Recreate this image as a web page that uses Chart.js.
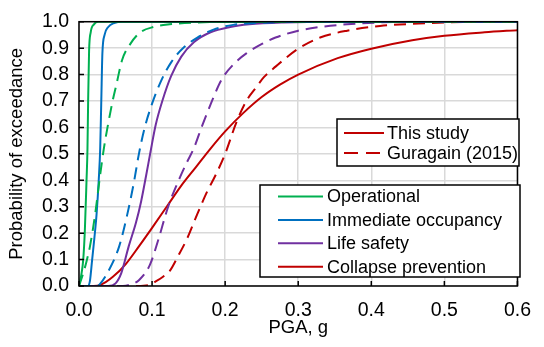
<!DOCTYPE html>
<html>
<head>
<meta charset="utf-8">
<script src="https://cdn.jsdelivr.net/npm/chart.js@4.4.1/dist/chart.umd.min.js"></script>
<style>
  html, body { margin: 0; padding: 0; background: #fff; }
  #wrap { width: 544px; height: 347px; }
</style>
</head>
<body>
<div id="wrap"><canvas id="fragility"></canvas></div>
<script>
// PGA (g) / probability of exceedance
const operationalStudy = [[0,0],[0.003,0.04],[0.0058,0.1],[0.008,0.21],[0.0103,0.4],[0.0116,0.52],[0.0125,0.7],[0.0138,0.89],[0.016,0.96],[0.0205,0.99],[0.026,1],[0.6,1]];
const operationalGuragain = [[0,0],[0.006,0.05],[0.01,0.09],[0.015,0.15],[0.022,0.27],[0.028,0.4],[0.034,0.52],[0.039,0.6],[0.046,0.7],[0.051,0.76],[0.059,0.855],[0.0705,0.917],[0.084,0.96],[0.102,0.98],[0.124,0.99],[0.16,0.997],[0.2,1],[0.6,1]];
const immediateStudy = [[0,0],[0.012,0],[0.015,0.02],[0.018,0.1],[0.021,0.18],[0.024,0.27],[0.027,0.4],[0.029,0.52],[0.0305,0.7],[0.032,0.88],[0.035,0.95],[0.04,0.98],[0.048,0.995],[0.06,1],[0.6,1]];
const immediateGuragain = [[0,0],[0.025,0],[0.028,0.005],[0.039,0.05],[0.055,0.15],[0.066,0.27],[0.075,0.39],[0.082,0.5],[0.09,0.6],[0.1,0.69],[0.113,0.78],[0.127,0.85],[0.144,0.904],[0.162,0.94],[0.184,0.97],[0.211,0.988],[0.25,0.996],[0.3,1],[0.6,1]];
const lifeStudy = [[0,0],[0.04,0],[0.05,0.01],[0.058,0.05],[0.068,0.15],[0.078,0.24],[0.085,0.32],[0.092,0.42],[0.098,0.51],[0.105,0.61],[0.114,0.7],[0.126,0.794],[0.14,0.868],[0.1575,0.923],[0.18,0.96],[0.207,0.98],[0.233,0.99],[0.28,0.997],[0.35,1],[0.6,1]];
const lifeGuragain = [[0,0],[0.06,0],[0.07,0.005],[0.082,0.022],[0.097,0.08],[0.108,0.17],[0.122,0.3],[0.138,0.41],[0.148,0.47],[0.157,0.52],[0.169,0.61],[0.182,0.7],[0.195,0.78],[0.213,0.843],[0.229,0.88],[0.251,0.917],[0.269,0.94],[0.3,0.966],[0.33,0.98],[0.367,0.99],[0.45,1],[0.6,1]];
const collapseStudy = [[0,0],[0.02,0],[0.03,0.005],[0.046,0.034],[0.064,0.083],[0.082,0.15],[0.1,0.22],[0.12,0.3],[0.14,0.38],[0.16,0.45],[0.18,0.52],[0.2,0.585],[0.225,0.655],[0.25,0.715],[0.275,0.762],[0.3,0.8],[0.354,0.862],[0.4,0.898],[0.456,0.93],[0.5,0.947],[0.555,0.96],[0.6,0.968]];
const collapseGuragain = [[0,0],[0.08,0],[0.095,0.003],[0.104,0.016],[0.115,0.035],[0.125,0.06],[0.135,0.11],[0.148,0.18],[0.16,0.26],[0.175,0.355],[0.187,0.42],[0.2,0.5],[0.2155,0.62],[0.229,0.7],[0.242,0.75],[0.253,0.79],[0.269,0.83],[0.3,0.898],[0.33,0.94],[0.367,0.966],[0.412,0.984],[0.465,0.993],[0.55,1],[0.6,1]];

const xTicks = [0, 0.1, 0.2, 0.3, 0.4, 0.5, 0.6];
const yTicks = [0, 0.1, 0.2, 0.3, 0.4, 0.5, 0.6, 0.7, 0.8, 0.9, 1.0];

const stateNames = ['Operational', 'Immediate occupancy', 'Life safety', 'Collapse prevention'];
const stateColors = ['#00b050', '#0070c0', '#7030a0', '#c00000'];
const sourceNames = ['This study', 'Guragain (2015)'];
const DASH = [12, 7];
const FONT = 'Liberation Sans, Arial, sans-serif';

function series(points, color, dashed) {
  return {
    data: points.map(p => ({ x: p[0], y: p[1] })),
    borderColor: color,
    borderWidth: 2,
    borderDash: dashed ? DASH : [],
    pointRadius: 0,
    fill: false,
    cubicInterpolationMode: 'monotone'
  };
}

const datasets = [
  series(operationalGuragain, stateColors[0], true),
  series(immediateGuragain, stateColors[1], true),
  series(lifeGuragain, stateColors[2], true),
  series(collapseGuragain, stateColors[3], true),
  series(operationalStudy, stateColors[0], false),
  series(immediateStudy, stateColors[1], false),
  series(lifeStudy, stateColors[2], false),
  series(collapseStudy, stateColors[3], false)
];

// frame, inward tick marks and the two boxed legends
const decor = {
  id: 'decor',
  afterDatasetsDraw(chart) {
    const ctx = chart.ctx;
    const a = chart.chartArea;
    const xs = chart.scales.x, ys = chart.scales.y;
    ctx.save();
    ctx.strokeStyle = '#000';
    ctx.lineWidth = 1.5;
    ctx.strokeRect(a.left, a.top, a.right - a.left, a.bottom - a.top);
    ctx.beginPath();
    xTicks.forEach(v => {
      const px = xs.getPixelForValue(v);
      ctx.moveTo(px, a.bottom); ctx.lineTo(px, a.bottom - 5);
    });
    yTicks.forEach(v => {
      const py = ys.getPixelForValue(v);
      ctx.moveTo(a.left, py); ctx.lineTo(a.left + 5, py);
    });
    ctx.stroke();

    ctx.font = '18px ' + FONT;
    ctx.textBaseline = 'middle';

    // legend 1: line style
    ctx.fillStyle = '#fff';
    ctx.fillRect(337, 119, 182, 47);
    ctx.strokeRect(337, 119, 182, 47);
    [133, 153].forEach((y, i) => {
      ctx.beginPath();
      ctx.strokeStyle = stateColors[3];
      ctx.lineWidth = 2;
      ctx.setLineDash(i ? [14, 8] : []);
      ctx.moveTo(344, y); ctx.lineTo(384, y);
      ctx.stroke();
      ctx.setLineDash([]);
      ctx.fillStyle = '#000';
      ctx.fillText(sourceNames[i], 387, y + 1);
    });

    // legend 2: damage states
    ctx.strokeStyle = '#000';
    ctx.lineWidth = 1.5;
    ctx.fillStyle = '#fff';
    ctx.fillRect(260, 185, 260, 92);
    ctx.strokeRect(260, 185, 260, 92);
    stateNames.forEach((name, i) => {
      const y = 196.5 + i * 23.4;
      ctx.beginPath();
      ctx.strokeStyle = stateColors[i];
      ctx.lineWidth = 2;
      ctx.moveTo(278, y); ctx.lineTo(323, y);
      ctx.stroke();
      ctx.fillStyle = '#000';
      ctx.fillText(name, 327, y + 1);
    });
    ctx.restore();
  }
};

new Chart(document.getElementById('fragility'), {
  type: 'line',
  data: { datasets: datasets },
  options: {
    responsive: true,
    maintainAspectRatio: false,
    animation: false,
    layout: { padding: { top: 14, right: 17, left: 0, bottom: 0 } },
    plugins: {
      legend: { display: false },
      tooltip: { enabled: false }
    },
    scales: {
      x: {
        type: 'linear',
        min: 0, max: 0.6,
        afterFit: s => { s.height = 61; },
        afterBuildTicks: s => { s.ticks = xTicks.map(v => ({ value: v })); },
        ticks: {
          padding: 13,
          color: '#000',
          font: { family: FONT, size: 19.5 },
          callback: v => Number(v).toFixed(1)
        },
        grid: { color: '#d9d9d9', lineWidth: 1.5, drawTicks: false },
        border: { display: false },
        title: {
          display: true, text: 'PGA, g', color: '#000',
          font: { family: FONT, size: 18.5 },
          padding: { top: 0, bottom: 8 }
        }
      },
      y: {
        min: 0, max: 1,
        afterFit: s => { s.width = 79; },
        afterBuildTicks: s => { s.ticks = yTicks.map(v => ({ value: v })); },
        ticks: {
          padding: 10,
          color: '#000',
          font: { family: FONT, size: 19.5 },
          callback: v => Number(v).toFixed(1)
        },
        grid: { color: '#d9d9d9', lineWidth: 1.5, drawTicks: false },
        border: { display: false },
        title: {
          display: true, text: 'Probability of exceedance', color: '#000',
          font: { family: FONT, size: 18.5 },
          padding: { top: 6, bottom: 0 }
        }
      }
    }
  },
  plugins: [decor]
});
</script>
</body>
</html>
